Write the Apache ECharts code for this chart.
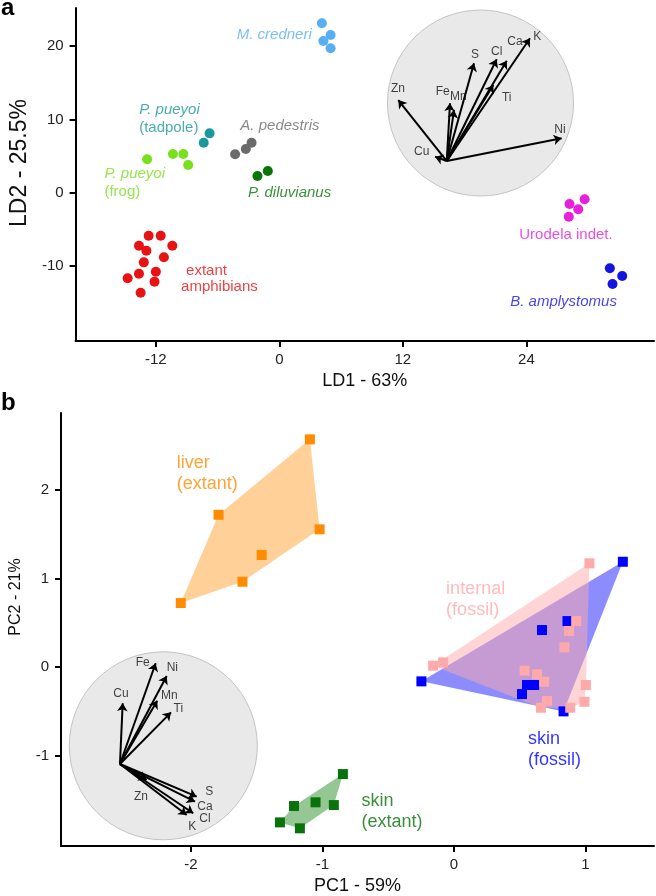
<!DOCTYPE html>
<html>
<head>
<meta charset="utf-8">
<script src="https://cdn.jsdelivr.net/npm/echarts@6/dist/echarts.min.js"></script>
<style>
html,body{margin:0;padding:0;background:#fff;}
#chart{width:656px;height:896px;}
</style>
</head>
<body>
<div id="chart"></div>
<script>
// ---- panel a : LDA scores (LD1, LD2)
var mCredneri  = [[4.13,23.11],[4.98,21.51],[4.28,20.70],[4.98,19.70]];
var ppTadpole  = [[-7.35,6.82],[-6.78,8.10]];
var aPedestris = [[-4.30,5.24],[-3.26,5.96],[-2.70,6.82]];
var ppFrog     = [[-12.85,4.56],[-10.34,5.28],[-9.33,5.28],[-8.86,3.78]];
var pDiluvianus= [[-2.13,2.28],[-1.12,2.96]];
var extantAmph = [[-12.70,-5.87],[-11.53,-5.87],[-13.64,-7.23],[-10.40,-7.23],[-12.92,-7.91],[-11.22,-8.81],
                  [-13.17,-9.50],[-12.00,-10.78],[-13.64,-11.05],[-14.74,-11.68],[-12.13,-12.14],[-13.48,-13.64]];
var urodela    = [[28.19,-1.54],[29.66,-0.90],[29.04,-2.26],[28.12,-3.27]];
var bAmply     = [[32.11,-10.31],[33.31,-11.36],[32.37,-12.46]];
var ticksA_x = [-12, 0, 12, 24];
var ticksA_y = [-10, 0, 10, 20];
// label anchors (data units)
var labA = {
  mc: [-4.14, 21.51], tad: [-13.62, 10.03], ap: [-3.79, 9.14], frog: [-17.0, 1.39],
  pd: [-3.04, 0.0], ext: [-9.55, -11.73], uro: [23.31, -5.77], ba: [22.43, -14.87]
};
// inset a : loadings (circle radius = 1)
var elemA   = ['Zn','Cu','Fe','Mn','S','Cl','Ca','K','Ti','Ni'];
var originA = [-0.363, -0.624];
var tipA    = [[-0.884,0.032],[-0.489,-0.577],[-0.328,-0.003],[-0.285,-0.075],[-0.070,0.427],
               [0.174,0.470],[0.282,0.455],[0.532,0.696],[0.138,0.194],[0.873,-0.380]];
var txtA    = [[-0.887,0.151],[-0.632,-0.524],[-0.406,0.122],[-0.239,0.068],[-0.059,0.516],
               [0.174,0.552],[0.371,0.659],[0.611,0.713],[0.282,0.061],[0.855,-0.283]];

// ---- panel b : PCA scores (PC1, PC2)
var liver      = [[-1.095,2.566],[-1.790,1.717],[-1.021,1.553],[-1.462,1.264],[-1.608,0.963],[-2.077,0.723]];
var skinExtant = [[-0.844,-1.203],[-1.216,-1.563],[-1.052,-1.521],[-0.913,-1.552],[-1.323,-1.747],[-1.171,-1.814]];
var skinFossil = [[-0.247,-0.159],[1.285,1.188],[0.834,-0.497],[0.864,0.520],[0.670,0.419],[0.556,-0.200],[0.611,-0.200],[0.518,-0.302]];
var internalFossil = [[1.031,1.170],[-0.082,0.055],[-0.158,0.017],[0.930,0.520],[0.875,0.408],[0.841,0.224],[0.538,-0.039],
                      [0.632,-0.080],[0.687,-0.163],[1.004,-0.200],[0.993,-0.389],[0.708,-0.381],[0.662,-0.456],[0.885,-0.456]];
var ticksB_x = [-2, -1, 0, 1];
var ticksB_y = [-1, 0, 1, 2];
var labB = { liver: [-2.107, 2.184], internal: [-0.059, 0.760], skinF: [0.563, -0.927], skinE: [-0.702, -1.625] };
// inset b : loadings
var elemB   = ['Fe','Ni','Cu','Mn','Ti','S','Ca','Cl','K','Zn'];
var originB = [-0.461, -0.194];
var tipB    = [[-0.081,0.878],[0.036,0.743],[-0.432,0.452],[-0.064,0.480],[0.082,0.356],
               [0.355,-0.541],[0.337,-0.595],[0.319,-0.718],[0.249,-0.736],[-0.177,-0.364]];
var txtB    = [[-0.219,0.888],[0.096,0.835],[-0.450,0.559],[0.064,0.533],[0.160,0.395],
               [0.489,-0.488],[0.444,-0.648],[0.444,-0.771],[0.309,-0.861],[-0.237,-0.541]];

var FONT = '"Liberation Sans", Arial, sans-serif';

function convexHull(pts) {
  var p = pts.slice().sort(function (a, b) { return a[0] - b[0] || a[1] - b[1]; });
  function cross(o, a, b) { return (a[0]-o[0])*(b[1]-o[1]) - (a[1]-o[1])*(b[0]-o[0]); }
  var lower = [], upper = [];
  for (var i = 0; i < p.length; i++) {
    while (lower.length >= 2 && cross(lower[lower.length-2], lower[lower.length-1], p[i]) <= 0) lower.pop();
    lower.push(p[i]);
  }
  for (var j = p.length - 1; j >= 0; j--) {
    while (upper.length >= 2 && cross(upper[upper.length-2], upper[upper.length-1], p[j]) <= 0) upper.pop();
    upper.push(p[j]);
  }
  upper.pop(); lower.pop();
  return lower.concat(upper);
}

function pts(data, color, gi, shape) {
  return { type: 'scatter', xAxisIndex: gi, yAxisIndex: gi, data: data, silent: true,
    symbol: shape, symbolSize: 10, itemStyle: { color: color, opacity: 1 }, z: 2 };
}
function hull(data, fill, gi) {
  var h = convexHull(data);
  return { type: 'custom', xAxisIndex: gi, yAxisIndex: gi, silent: true, z: 2, data: [[h[0][0], h[0][1]]],
    renderItem: function (params, api) {
      return { type: 'polygon', shape: { points: h.map(function (q) { return api.coord(q); }) },
        style: { fill: fill } };
    } };
}
function lab(pos, text, color, align, size, lh) {
  return { value: pos, label: { show: true, position: 'inside', align: align, verticalAlign: 'middle',
    formatter: text, color: color, fontSize: size, lineHeight: lh, fontFamily: FONT,
    rich: {
      i: { fontStyle: 'italic', color: color, fontSize: size, lineHeight: lh, fontFamily: FONT },
      n: { color: color, fontSize: size, lineHeight: lh, fontFamily: FONT },
      d: { color: color, fontSize: size, lineHeight: lh, fontFamily: FONT, padding: [0, 0, 0, 5] }
    } } };
}
function labels(items, gi) {
  return { type: 'scatter', xAxisIndex: gi, yAxisIndex: gi, symbolSize: 1, silent: true, z: 6,
    itemStyle: { color: 'rgba(0,0,0,0)' }, data: items };
}
function axX(gi, min, max, ticks, name) {
  return { type: 'value', gridIndex: gi, min: min, max: max, name: name, nameLocation: 'middle', nameGap: 31,
    nameTextStyle: { fontSize: 18, color: '#111', fontFamily: FONT },
    axisLine: { show: true, onZero: false, lineStyle: { color: '#000', width: 2 } },
    axisTick: { show: true, length: 6, lineStyle: { color: '#000', width: 2 }, customValues: ticks },
    axisLabel: { fontSize: 15, color: '#222', margin: 11, fontFamily: FONT, customValues: ticks },
    splitLine: { show: false } };
}
function axY(gi, min, max, ticks, name, size, gap, shift) {
  return { type: 'value', gridIndex: gi, min: min, max: max, name: name, nameLocation: 'middle', nameGap: gap,
    nameTextStyle: { fontSize: size, color: '#111', fontFamily: FONT, padding: [0, 0, 0, shift] },
    axisLine: { show: true, onZero: false, lineStyle: { color: '#000', width: 2 } },
    axisTick: { show: true, length: 6, lineStyle: { color: '#000', width: 2 }, customValues: ticks },
    axisLabel: { fontSize: 15, color: '#222', margin: 12, fontFamily: FONT, customValues: ticks },
    splitLine: { show: false } };
}
function hidden(gi) {
  return { type: 'value', gridIndex: gi, min: -1, max: 1, show: false, splitLine: { show: false } };
}
function circle(gi) {
  return { type: 'custom', xAxisIndex: gi, yAxisIndex: gi, silent: true, z: 3, data: [[0, 0]],
    renderItem: function (params, api) {
      var c = api.coord([0, 0]), e = api.coord([1, 0]);
      return { type: 'circle', shape: { cx: c[0], cy: c[1], r: e[0] - c[0] },
        style: { fill: '#e9e9e9', stroke: '#c4c4c4', lineWidth: 1 } };
    } };
}
function arrows(origin, tips, gi) {
  return { type: 'lines', coordinateSystem: 'cartesian2d', xAxisIndex: gi, yAxisIndex: gi, silent: true, z: 4,
    symbol: ['none', 'arrow'], symbolSize: 8,
    lineStyle: { color: '#000', width: 2, opacity: 1, curveness: 0 },
    data: tips.map(function (t) { return { coords: [origin, t] }; }) };
}
function elemLabels(names, pos, gi) {
  return labels(names.map(function (n, i) {
    return { value: pos[i], label: { show: true, position: 'inside', formatter: n, color: '#111',
      fontSize: 12, fontFamily: FONT } };
  }), gi);
}

var chart = echarts.init(document.getElementById('chart'), null, { renderer: 'canvas' });
chart.setOption({
  backgroundColor: '#fff',
  animation: false,
  grid: [
    { left: 58, top: 8, right: 2, bottom: 555 },
    { left: 60, top: 413, right: 2, bottom: 50 },
    { left: 387.5, top: 10, width: 186, height: 186 },
    { left: 69.3, top: 651.8, width: 188, height: 188 }
  ],
  xAxis: [
    axX(0, -19.8, 36.4, ticksA_x, 'LD1 - 63%'),
    axX(1, -2.988, 1.522, ticksB_x, 'PC1 - 59%'),
    hidden(2), hidden(3)
  ],
  yAxis: [
    axY(0, -20.23, 25.2, ticksA_y, 'LD2 - 25.5%', 23, 34, 23),
    axY(1, -2.013, 2.863, ticksB_y, 'PC2 - 21%', 16, 37, 65),
    hidden(2), hidden(3)
  ],
  graphic: [
    { type: 'text', left: 1, top: -4, style: { text: 'a', font: 'bold 24px ' + FONT, fill: '#000' } },
    { type: 'text', left: 1, top: 391, style: { text: 'b', font: 'bold 24px ' + FONT, fill: '#000' } }
  ],
  series: [
    // panel a
    pts(mCredneri, '#58aef2', 0, 'circle'),
    pts(ppTadpole, '#1c979b', 0, 'circle'),
    pts(aPedestris, '#6b6b6b', 0, 'circle'),
    pts(ppFrog, '#78e01e', 0, 'circle'),
    pts(pDiluvianus, '#077507', 0, 'circle'),
    pts(extantAmph, '#e81212', 0, 'circle'),
    pts(urodela, '#e620dc', 0, 'circle'),
    pts(bAmply, '#1414e0', 0, 'circle'),
    labels([
      lab(labA.mc, '{i|M. credneri}', '#58aef2', 'left', 15, 18),
      lab(labA.tad, '{i|P. pueyoi}\n{n|(tadpole)}', '#1c979b', 'left', 15, 18),
      lab(labA.ap, '{i|A. pedestris}', '#6b6b6b', 'left', 15, 18),
      lab(labA.frog, '{i|P. pueyoi}\n{n|(frog)}', '#78e01e', 'left', 15, 18),
      lab(labA.pd, '{i|P. diluvianus}', '#077507', 'left', 15, 18),
      lab(labA.ext, '{d|extant}\n{n|amphibians}', '#e81212', 'left', 15, 16),
      lab(labA.uro, '{n|Urodela indet.}', '#e620dc', 'left', 15, 18),
      lab(labA.ba, '{i|B. amplystomus}', '#1414e0', 'left', 15, 18)
    ], 0),
    circle(2),
    arrows(originA, tipA, 2),
    elemLabels(elemA, txtA, 2),
    // panel b
    hull(liver, 'rgba(255,140,0,0.4)', 1),
    pts(liver, '#ff8c00', 1, 'rect'),
    hull(skinExtant, 'rgba(20,130,20,0.45)', 1),
    pts(skinExtant, '#0a720a', 1, 'rect'),
    hull(skinFossil, 'rgba(0,0,255,0.45)', 1),
    pts(skinFossil, '#0000ff', 1, 'rect'),
    hull(internalFossil, 'rgba(255,170,170,0.5)', 1),
    pts(internalFossil, '#ffaaaa', 1, 'rect'),
    labels([
      lab(labB.liver, '{n|liver}\n{n|(extant)}', '#ff8c00', 'left', 18, 21),
      lab(labB.internal, '{n|internal}\n{n|(fossil)}', '#ffaaaa', 'left', 18, 21),
      lab(labB.skinF, '{n|skin}\n{n|(fossil)}', '#0000ff', 'left', 18, 21),
      lab(labB.skinE, '{n|skin}\n{n|(extant)}', '#0a720a', 'left', 18, 21)
    ], 1),
    circle(3),
    arrows(originB, tipB, 3),
    elemLabels(elemB, txtB, 3)
  ]
});
</script>
</body>
</html>
